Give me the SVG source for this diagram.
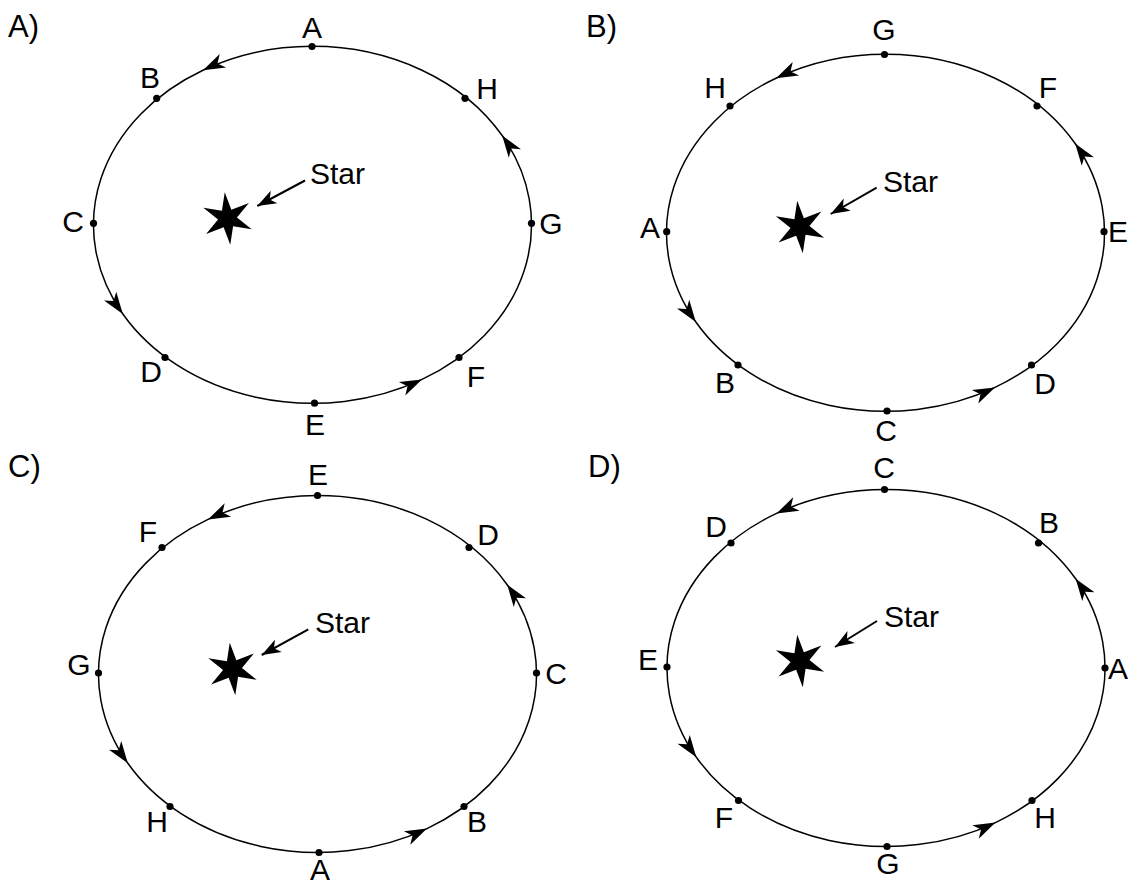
<svg xmlns="http://www.w3.org/2000/svg" xmlns:xlink="http://www.w3.org/1999/xlink" width="1128" height="882" viewBox="0 0 1128 882">
<style>
  .orbit { fill: none; stroke: #000; stroke-width: 1.5; marker-mid: url(#ah); }
  .sarrow { fill: none; stroke: #000; stroke-width: 2; marker-end: url(#ah2); }
  .dot circle { fill: #000; }
  text { font-family: "Liberation Sans", Arial, sans-serif; font-size: 30px; fill: #000; }
  .lbl { text-anchor: middle; }
  .panel { font-size: 31px; }
  .star { fill: #000; }
</style>
<defs>
  <marker id="ah" markerUnits="userSpaceOnUse" markerWidth="24" markerHeight="18" refX="22" refY="9" orient="auto" overflow="visible">
    <path d="M22,9 L0,1.5 L6,9 L0,16.5 Z" fill="#000"/>
  </marker>
  <marker id="ah2" markerUnits="userSpaceOnUse" markerWidth="22" markerHeight="18" refX="19" refY="9" orient="auto" overflow="visible">
    <path d="M19,9 L0,2 L5,9 L0,16 Z" fill="#000"/>
  </marker>
  <path id="orbitPath" d="M0,-178.5 A219,178.5 0 0 0 -109.5,-154.6 A219,178.5 0 0 0 -189.66,89.25 A219,178.5 0 0 0 109.5,154.6 A219,178.5 0 0 0 189.66,-89.25 A219,178.5 0 0 0 0,-178.5"/>
  <path id="starShape" d="M0,-26.5 L4.75,-8.23 L22.9,-13.2 L9.5,0 L22.9,13.2 L4.75,8.23 L0,26.5 L-4.75,8.23 L-22.9,13.2 L-9.5,0 L-22.9,-13.2 L-4.75,-8.23 Z"/>
</defs>

<g id="connectors">
  <use id="orbit-A" class="orbit" xlink:href="#orbitPath" href="#orbitPath" transform="translate(312.5,224.8)"/>
  <use id="orbit-B" class="orbit" xlink:href="#orbitPath" href="#orbitPath" transform="translate(885.5,232.8)"/>
  <use id="orbit-C" class="orbit" xlink:href="#orbitPath" href="#orbitPath" transform="translate(317.5,674)"/>
  <use id="orbit-D" class="orbit" xlink:href="#orbitPath" href="#orbitPath" transform="translate(886,668)"/>
  <path class="sarrow" d="M305,180.5 L257.3,206"/>
  <path class="sarrow" d="M876.7,187.7 L830.7,214"/>
  <path class="sarrow" d="M308.3,629.3 L261.7,655"/>
  <path class="sarrow" d="M877,621 L835,647"/>
</g>

<g id="panel-A">
  <text class="panel" x="8" y="36.5">A)</text>
  <g id="points-A" class="dot">
    <circle cx="312" cy="46.5" r="3.6"/><circle cx="156.7" cy="98.3" r="3.6"/>
    <circle cx="93.5" cy="223.3" r="3.6"/><circle cx="165" cy="357.5" r="3.6"/>
    <circle cx="314.5" cy="403.2" r="3.6"/><circle cx="459" cy="357.5" r="3.6"/>
    <circle cx="531.5" cy="223.3" r="3.6"/><circle cx="465" cy="98.3" r="3.6"/>
  </g>
  <g id="star-A"><use class="star" xlink:href="#starShape" href="#starShape" transform="translate(227.5,218.5) rotate(-6)"/><text x="310" y="184">Star</text></g>
  <g id="labels-A">
    <text class="lbl" x="312" y="38">A</text>
    <text class="lbl" x="150" y="87.5">B</text>
    <text class="lbl" x="73" y="231.5">C</text>
    <text class="lbl" x="151" y="382">D</text>
    <text class="lbl" x="315" y="435">E</text>
    <text class="lbl" x="476" y="387">F</text>
    <text class="lbl" x="551" y="234">G</text>
    <text class="lbl" x="487" y="99">H</text>
  </g>
</g>

<g id="panel-B">
  <text class="panel" x="586" y="36.5">B)</text>
  <g id="points-B" class="dot">
    <circle cx="884.5" cy="54.5" r="3.6"/><circle cx="730" cy="106" r="3.6"/>
    <circle cx="666.7" cy="231.7" r="3.6"/><circle cx="738" cy="365" r="3.6"/>
    <circle cx="887" cy="411" r="3.6"/><circle cx="1031.5" cy="365" r="3.6"/>
    <circle cx="1104" cy="231.7" r="3.6"/><circle cx="1037" cy="106" r="3.6"/>
  </g>
  <g id="star-B"><use class="star" xlink:href="#starShape" href="#starShape" transform="translate(800,227) rotate(-6)"/><text x="883" y="191.5">Star</text></g>
  <g id="labels-B">
    <text class="lbl" x="650" y="238">A</text>
    <text class="lbl" x="725" y="393">B</text>
    <text class="lbl" x="886" y="441">C</text>
    <text class="lbl" x="1045" y="394">D</text>
    <text class="lbl" x="1118" y="241.5">E</text>
    <text class="lbl" x="1048" y="98">F</text>
    <text class="lbl" x="884" y="40">G</text>
    <text class="lbl" x="715" y="98">H</text>
  </g>
</g>

<g id="panel-C">
  <text class="panel" x="8" y="477">C)</text>
  <g id="points-C" class="dot">
    <circle cx="317.5" cy="495.5" r="3.6"/><circle cx="162" cy="547.5" r="3.6"/>
    <circle cx="98.5" cy="673" r="3.6"/><circle cx="170" cy="806.5" r="3.6"/>
    <circle cx="319" cy="852.5" r="3.6"/><circle cx="464" cy="806.5" r="3.6"/>
    <circle cx="536.5" cy="673" r="3.6"/><circle cx="469" cy="547.5" r="3.6"/>
  </g>
  <g id="star-C"><use class="star" xlink:href="#starShape" href="#starShape" transform="translate(232.5,669) rotate(-6)"/><text x="315" y="633">Star</text></g>
  <g id="labels-C">
    <text class="lbl" x="320" y="879.5">A</text>
    <text class="lbl" x="477" y="832">B</text>
    <text class="lbl" x="556" y="684">C</text>
    <text class="lbl" x="488" y="545">D</text>
    <text class="lbl" x="318" y="485">E</text>
    <text class="lbl" x="148" y="542">F</text>
    <text class="lbl" x="79" y="675">G</text>
    <text class="lbl" x="157" y="832">H</text>
  </g>
</g>

<g id="panel-D">
  <text class="panel" x="588" y="477">D)</text>
  <g id="points-D" class="dot">
    <circle cx="884.5" cy="489.5" r="3.6"/><circle cx="731" cy="543" r="3.6"/>
    <circle cx="667" cy="667" r="3.6"/><circle cx="738.5" cy="800.5" r="3.6"/>
    <circle cx="887" cy="846.5" r="3.6"/><circle cx="1032" cy="800.5" r="3.6"/>
    <circle cx="1105" cy="668" r="3.6"/><circle cx="1038.5" cy="543" r="3.6"/>
  </g>
  <g id="star-D"><use class="star" xlink:href="#starShape" href="#starShape" transform="translate(800,661) rotate(-6)"/><text x="884" y="627">Star</text></g>
  <g id="labels-D">
    <text class="lbl" x="1118" y="679">A</text>
    <text class="lbl" x="1049" y="533">B</text>
    <text class="lbl" x="884" y="478">C</text>
    <text class="lbl" x="716" y="537">D</text>
    <text class="lbl" x="648" y="670">E</text>
    <text class="lbl" x="724" y="828">F</text>
    <text class="lbl" x="888" y="874">G</text>
    <text class="lbl" x="1045" y="828">H</text>
  </g>
</g>
</svg>
